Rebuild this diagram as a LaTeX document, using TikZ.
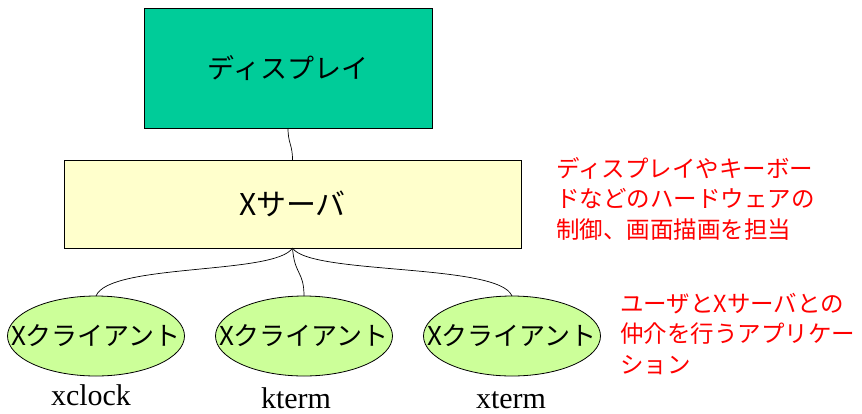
\documentclass[tikz,border=0pt]{standalone}
\usepackage{fontspec}
\setmainfont{Liberation Serif}
\newfontfamily\jp{Noto Sans CJK JP}
\usetikzlibrary{shapes.geometric}
\definecolor{dispgreen}{RGB}{0,204,153}
\definecolor{srvyellow}{RGB}{255,255,204}
\definecolor{clgreen}{RGB}{204,255,153}
\definecolor{notered}{RGB}{255,0,0}
\begin{document}
\begin{tikzpicture}[x=1pt,y=-1pt,
  box/.style={draw=black,line width=0.8pt,inner sep=0pt,outer sep=0pt},
  client/.style={ellipse,draw=black,line width=0.8pt,fill=clgreen,minimum width=177pt,minimum height=80pt,inner sep=0pt,outer sep=0pt},
  cltext/.style={font={\jp\fontsize{26}{30}\selectfont},inner sep=0pt},
  prog/.style={font={\fontsize{30}{34}\selectfont},inner sep=0pt,anchor=base},
  note/.style={font={\jp\fontsize{23.5}{30.5}\selectfont},text=notered,align=left,inner sep=0pt,anchor=base west},
  link/.style={draw=black,line width=0.7pt}]
\useasboundingbox (0,0) rectangle (862,413);
\node[box,fill=dispgreen,minimum width=288pt,minimum height=120pt,font={\jp\fontsize{27}{30}\selectfont}] (disp) at (288,68) {ディスプレイ};
\node[box,fill=srvyellow,minimum width=457pt,minimum height=88pt,font={\jp\fontsize{30}{34}\selectfont}] (srv) at (292.5,204) {Xサーバ};
\node[client,label={[cltext]center:Xクライアント}] (c1) at (96,336) {};
\node[client,label={[cltext]center:Xクライアント}] (c2) at (304,336) {};
\node[client,label={[cltext]center:Xクライアント}] (c3) at (512,336) {};
\node[prog] (p1) at (91,405) {xclock};
\node[prog] (p2) at (296,408) {kterm};
\node[prog] (p3) at (511,408) {xterm};
\node[note] (n1) at (556,238) {ディスプレイやキーボー\\ドなどのハードウェアの\\制御、画面描画を担当};
\node[note] (n2) at (620,373) {ユーザとXサーバとの\\仲介を行うアプリケー\\ション};
\draw[link] (disp.south) .. controls +(0,16) and +(0,-16) .. (srv.north);
\draw[link] (srv.south) .. controls +(-17,27) and +(13,-33) .. (c1.north);
\draw[link] (srv.south) .. controls +(2,27) and +(0,-25) .. (c2.north);
\draw[link] (srv.south) .. controls +(17,27) and +(-13,-33) .. (c3.north);
\end{tikzpicture}
\end{document}
